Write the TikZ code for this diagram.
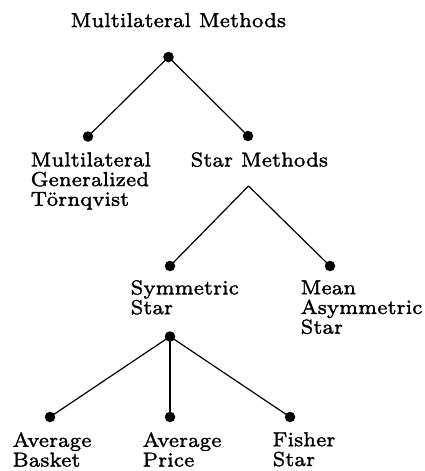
\documentclass[tikz,border=0pt]{standalone}
\font\lblfont="[lmroman7-regular]:+tlig;embolden=1.5" at 7pt
\newcommand\mylblf{\lblfont\baselineskip=6.8pt\relax}
\begin{document}
\begin{tikzpicture}[x=1pt,y=-1pt,
  dot/.style={circle,fill=black,inner sep=0pt,minimum size=10.5pt},
  lbl/.style={font=\mylblf,align=left,inner sep=0pt,anchor=north west,scale=2.9,transform shape},
  edge/.style={line width=1.2pt}]
\useasboundingbox (0,0) rectangle (425,471);
\node[lbl] (title) at (70,12.4) {Multilateral Methods};
\node[dot] (root) at (168.5,57) {};
\node[dot] (mgt) at (88,136.5) {};
\node[dot] (sm) at (248,136) {};
\node[lbl] (mgtl) at (30,151.7) {Multilateral\\Generalized\\Törnqvist};
\node[lbl] (sml) at (190,151.7) {Star Methods};
\coordinate (smx) at (248.5,186);
\node[dot] (ss) at (170,266) {};
\node[dot] (mas) at (330,266) {};
\node[lbl] (ssl) at (130,279.6) {Symmetric\\Star};
\node[lbl] (masl) at (300,279.8) {Mean\\Asymmetric\\Star};
\node[dot] (ssx) at (170,336.5) {};
\node[dot] (ab) at (50,417) {};
\node[dot] (ap) at (170,417) {};
\node[dot] (fs) at (290,417) {};
\node[lbl] (abl) at (12,431.8) {Average\\Basket};
\node[lbl] (apl) at (142,431.8) {Average\\Price};
\node[lbl] (fsl) at (272,431.6) {Fisher\\Star};
\draw[edge] (root.center) -- (mgt.center);
\draw[edge] (root.center) -- (sm.center);
\draw[edge] (smx) -- (ss.center);
\draw[edge] (smx) -- (mas.center);
\draw[edge] (ssx.center) -- (ab.center);
\draw[edge] (ssx.center) -- (ap.center);
\draw[edge] (ssx.center) -- (fs.center);
\end{tikzpicture}
\end{document}
